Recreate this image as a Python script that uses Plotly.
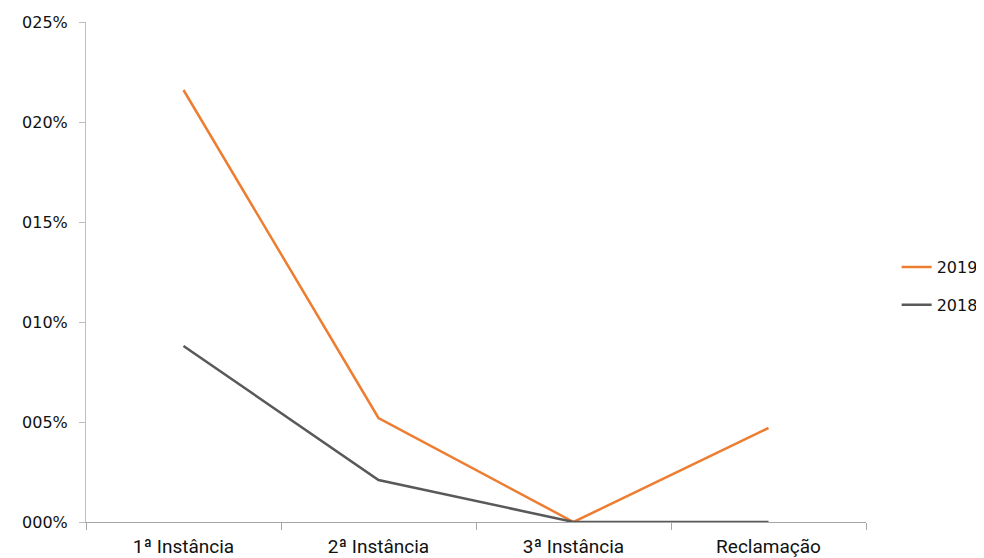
import plotly.graph_objects as go

categories = ["1ª Instância", "2ª Instância", "3ª Instância", "Reclamação"]
values_2019 = [0.216, 0.052, 0.0, 0.047]
values_2018 = [0.088, 0.021, 0.0, 0.0]
ytick_vals = [0, 0.05, 0.10, 0.15, 0.20, 0.25]
ytick_text = ["000%", "005%", "010%", "015%", "020%", "025%"]

fig = go.Figure()
fig.add_trace(go.Scatter(x=categories, y=values_2019, mode="lines", name="2019",
                         line=dict(color="#ED7D31", width=2.5), legendgroup="a"))
fig.add_trace(go.Scatter(x=categories, y=values_2018, mode="lines", name="2018",
                         line=dict(color="#595959", width=2.5), legendgroup="b"))

fig.update_layout(
    width=976, height=550,
    margin=dict(l=78, r=118, t=14, b=36),
    paper_bgcolor="white", plot_bgcolor="white",
    showlegend=True,
    legend=dict(xref="container", x=0.9105, y=0.472, xanchor="left", yanchor="middle",
                font=dict(family="DejaVu Sans", size=16, color="#111111"),
                tracegroupgap=14, itemwidth=30),
    xaxis=dict(type="category", range=[-0.5, 3.5], showgrid=False, automargin=False,
               showline=True, linecolor="#A6A6A6", linewidth=1,
               ticks="outside", tickson="boundaries", ticklen=7, tickcolor="#A6A6A6",
               ticklabelstandoff=7,
               tickfont=dict(family="Roboto", size=19, color="#111111"),
               zeroline=False),
    yaxis=dict(range=[0, 0.25], showgrid=False, zeroline=False, automargin=False,
               showline=True, linecolor="#BFBFBF", linewidth=1,
               ticks="outside", ticklen=6, tickcolor="#BFBFBF",
               ticklabelstandoff=8,
               tickvals=ytick_vals, ticktext=ytick_text,
               tickfont=dict(family="DejaVu Sans", size=16, color="#111111")),
)

fig.write_html("out.html")
